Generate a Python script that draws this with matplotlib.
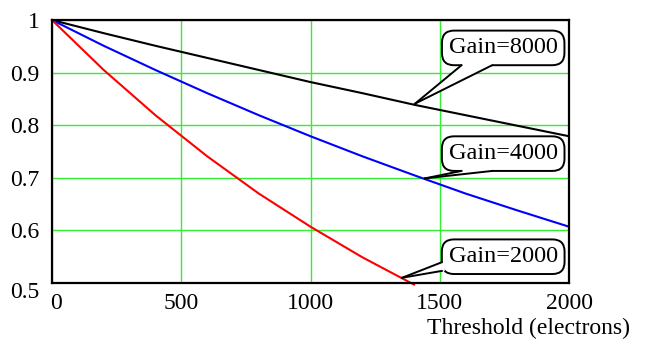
import matplotlib.pyplot as plt
from matplotlib.patches import Polygon
from matplotlib.lines import Line2D
from matplotlib.transforms import ScaledTranslation

plt.rcParams['font.family'] = 'Liberation Serif'

threshold = [0, 200, 400, 600, 800, 1000, 1200, 1400, 1600, 1800, 2000]
gain_8000 = [1.0, 0.975, 0.951, 0.928, 0.905, 0.882, 0.861, 0.839, 0.819, 0.799, 0.779]
gain_4000 = [1.0, 0.951, 0.905, 0.861, 0.819, 0.779, 0.741, 0.705, 0.670, 0.638, 0.607]
thr_2000 = [0, 200, 400, 600, 800, 1000, 1200, 1400]
gain_2000 = [1.0, 0.905, 0.819, 0.741, 0.670, 0.607, 0.549, 0.497]

labels = ['Gain=8000', 'Gain=4000', 'Gain=2000']
label_tips = [(1404, 0.841), (1443, 0.699), (1354, 0.510)]
label_pos = [(1745, 0.947), (1745, 0.746), (1745, 0.550)]
# where the callout tail leaves the box: side, start and end fraction along it
label_tail = [('bottom', 0.16, 0.41), ('bottom', 0.16, 0.41), ('left', 0.09, 0.34)]

fig = plt.figure(figsize=(6.46, 3.40), dpi=100)
ax = fig.add_axes([0.0805, 0.1676, 0.8005, 0.7735])

ax.plot(threshold, gain_8000, color='black', lw=1.5, zorder=3)
ax.plot(threshold, gain_4000, color='blue', lw=1.5, zorder=3)
ax.plot(thr_2000, gain_2000, color='red', lw=1.5, zorder=3, clip_on=False)

ax.set_xlim(0, 2000)
ax.set_ylim(0.5, 1.0)
ax.set_xticks([0, 500, 1000, 1500, 2000])
ax.set_yticks([0.5, 0.6, 0.7, 0.8, 0.9, 1.0])
ax.set_yticklabels(['0.5', '0.6', '0.7', '0.8', '0.9', '1'])
ax.grid(True, color='#33ee33', lw=1.0)
ax.tick_params(length=0, labelsize=17)
ax.tick_params(axis='x', pad=7)
ax.tick_params(axis='y', pad=9)
for s in ax.spines.values():
    s.set_linewidth(1.6)
    s.set_zorder(4)

# nudge the two corner labels apart like the original
lx = ax.get_xticklabels()[0]
lx.set_transform(lx.get_transform() + ScaledTranslation(3 / 72, 0, fig.dpi_scale_trans))
ly = ax.get_yticklabels()[0]
ly.set_transform(ly.get_transform() + ScaledTranslation(0, -5 / 72, fig.dpi_scale_trans))

texts = []
for txt, pos in zip(labels, label_pos):
    t = ax.text(pos[0], pos[1], txt, fontsize=17.5, ha='center', va='center', zorder=5,
                bbox=dict(boxstyle='round,pad=0.28,rounding_size=0.5', fc='white', ec='black', lw=1.4))
    texts.append(t)

fig.text(0.976, 0.035, 'Threshold (electrons)', fontsize=17, ha='right', va='center')

# callout tails, built from the rendered box extents
fig.canvas.draw()
to_fig = fig.transFigure.inverted()
for t, tip, (side, f1, f2) in zip(texts, label_tips, label_tail):
    bb = t.get_bbox_patch().get_window_extent()
    if side == 'bottom':
        p1 = (bb.x0 + f1 * bb.width, bb.y0)
        p2 = (bb.x0 + f2 * bb.width, bb.y0)
        q1 = (p1[0], p1[1] + 3)
        q2 = (p2[0], p2[1] + 3)
    else:
        p1 = (bb.x0, bb.y0 + f1 * bb.height)
        p2 = (bb.x0, bb.y0 + f2 * bb.height)
        q1 = (p1[0] + 3, p1[1])
        q2 = (p2[0] + 3, p2[1])
    pt = ax.transData.transform(tip)
    poly = [to_fig.transform(p) for p in (q1, p1, pt, p2, q2)]
    fig.patches.append(Polygon(poly, closed=True, fc='white', ec='none',
                               transform=fig.transFigure, zorder=6))
    for p in (p1, p2):
        a, b = to_fig.transform(p), to_fig.transform(pt)
        fig.lines.append(Line2D([a[0], b[0]], [a[1], b[1]], color='black', lw=1.4,
                                transform=fig.transFigure, zorder=7))

fig.savefig('out.png', dpi=100)
